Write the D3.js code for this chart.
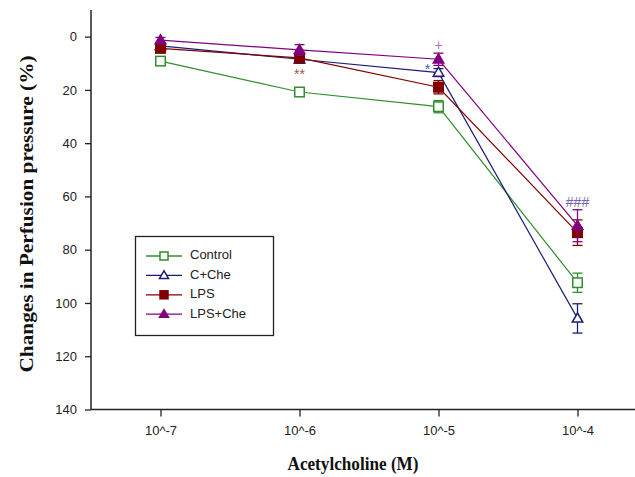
<!DOCTYPE html>
<html><head><meta charset="utf-8">
<script src="https://cdn.jsdelivr.net/npm/d3@7"></script>
<style>body{margin:0;background:#fff}</style>
</head><body><svg id="c" width="635" height="477"></svg>
<script>
const categories = ["10^-7","10^-6","10^-5","10^-4"];
const yTicks = [0,20,40,60,80,100,120,140];
const seriesNames = ["Control","C+Che","LPS","LPS+Che"];
const controlVals = [9.2, 20.8, 26.3, 92.4];
const controlErr  = [1.0, 1.0, 2.3, 3.6];
const cheVals = [3.5, 8.5, 13.5, 105.8];
const cheErr  = [1.0, 1.5, 1.5, 5.5];
const lpsVals = [4.4, 8.0, 19.0, 73.6];
const lpsErr  = [1.0, 1.5, 2.5, 4.8];
const lpsCheVals = [1.3, 5.0, 8.5, 71.0];
const lpsCheErr  = [1.0, 2.0, 2.3, 6.0];
const annotations = [
  {cat:1, val:14.5, text:"**", color:"#9a5a50"},
  {cat:2, val:12.5, text:"*", color:"#4a5ad0", dx:-11},
  {cat:2, val:3.5, text:"+", color:"#b070c0"},
  {cat:3, val:62.5, text:"###", color:"#7a60b0"}
];

const colors = ["#2f8f2f","#1c1c7a","#800000","#800080"];
const markers = ["sq-open","tri-open","sq","tri"];
const series = [
  {name:seriesNames[0], vals:controlVals, err:controlErr},
  {name:seriesNames[1], vals:cheVals, err:cheErr},
  {name:seriesNames[2], vals:lpsVals, err:lpsErr},
  {name:seriesNames[3], vals:lpsCheVals, err:lpsCheErr}
];

const svg = d3.select("#c");
const x = d3.scaleLinear().domain([-0.5, 3.5]).range([91, 647]);
const y = d3.scaleLinear().domain([-10, 140]).range([10, 409.5]);

const yAxis = d3.axisLeft(y).tickValues(yTicks).tickSize(6).tickPadding(8);
const gy = svg.append("g").attr("transform","translate(91,0)").call(yAxis);
const xAxis = d3.axisBottom(x).tickValues([0,1,2,3]).tickFormat(i=>categories[i]).tickSize(7).tickPadding(9);
const gx = svg.append("g").attr("transform","translate(0,409.5)").call(xAxis);
[gx,gy].forEach(g=>{
  g.select(".domain").attr("stroke","#222").attr("stroke-width",1.5);
  g.selectAll(".tick line").attr("stroke","#222").attr("stroke-width",1.3);
  g.selectAll("text").attr("font-family","Arial, 'Liberation Sans', sans-serif").attr("font-size",13).attr("fill","#222");
});
gy.select(".domain").attr("d","M0,10V409.5");
gx.select(".domain").attr("d","M91,0H647");

function marker(g, type, color, cx, cy, s){
  if(type.startsWith("sq")){
    g.append("rect").attr("x",cx-s/2).attr("y",cy-s/2).attr("width",s).attr("height",s)
      .attr("fill", type==="sq"?color:"#fff").attr("stroke",color).attr("stroke-width",1.5);
  } else {
    const h = s*0.95;
    g.append("path").attr("d",`M${cx},${cy-h*0.6}L${cx+s/2+0.5},${cy+h*0.4}L${cx-s/2-0.5},${cy+h*0.4}Z`)
      .attr("fill", type==="tri"?color:"#fff").attr("stroke",color).attr("stroke-width",1.5);
  }
}

const line = d3.line().x((d,i)=>x(i)).y(d=>y(d));
series.forEach((s,k)=>{
  const g = svg.append("g");
  g.append("path").attr("d",line(s.vals)).attr("fill","none").attr("stroke",colors[k]).attr("stroke-width",1.2);
  s.vals.forEach((v,i)=>{
    const cx = x(i), e = s.err[i];
    g.append("line").attr("x1",cx).attr("x2",cx).attr("y1",y(v-e)).attr("y2",y(v+e)).attr("stroke",colors[k]).attr("stroke-width",1.3);
    [v-e, v+e].forEach(t=>g.append("line").attr("x1",cx-5).attr("x2",cx+5).attr("y1",y(t)).attr("y2",y(t)).attr("stroke",colors[k]).attr("stroke-width",1.3));
    marker(g, markers[k], colors[k], cx, y(v), 9.5);
  });
});

annotations.forEach(a=>{
  svg.append("text").attr("x",x(a.cat)+(a.dx||0)).attr("y",y(a.val)).attr("text-anchor","middle")
    .attr("dominant-baseline","middle").attr("font-family","Arial, sans-serif").attr("font-size",14)
    .attr("fill",a.color).text(a.text);
});

const lg = svg.append("g");
lg.append("rect").attr("x",135.5).attr("y",236.5).attr("width",138).attr("height",99)
  .attr("fill","#fff").attr("stroke","#222").attr("stroke-width",1.3);
series.forEach((s,k)=>{
  const yy = 256 + k*19.4;
  lg.append("line").attr("x1",146).attr("x2",182).attr("y1",yy).attr("y2",yy).attr("stroke",colors[k]).attr("stroke-width",1.3);
  marker(lg, markers[k], colors[k], 164, yy, 8);
  lg.append("text").attr("x",190).attr("y",yy).attr("dominant-baseline","middle")
    .attr("font-family","Arial, 'Liberation Sans', sans-serif").attr("font-size",13).attr("fill","#222").text(s.name);
});

svg.append("text").attr("transform","translate(33,214) rotate(-90)").attr("text-anchor","middle")
  .attr("font-family","'Liberation Serif','Times New Roman',serif").attr("font-weight","bold").attr("font-size",19)
  .attr("textLength",317).attr("lengthAdjust","spacingAndGlyphs").attr("fill","#111")
  .text("Changes in Perfusion pressure (%)");
svg.append("text").attr("x",353).attr("y",470).attr("text-anchor","middle")
  .attr("font-family","'Liberation Serif','Times New Roman',serif").attr("font-weight","bold").attr("font-size",18)
  .attr("textLength",131).attr("lengthAdjust","spacingAndGlyphs")
  .attr("fill","#111").text("Acetylcholine (M)");
</script></body></html>
